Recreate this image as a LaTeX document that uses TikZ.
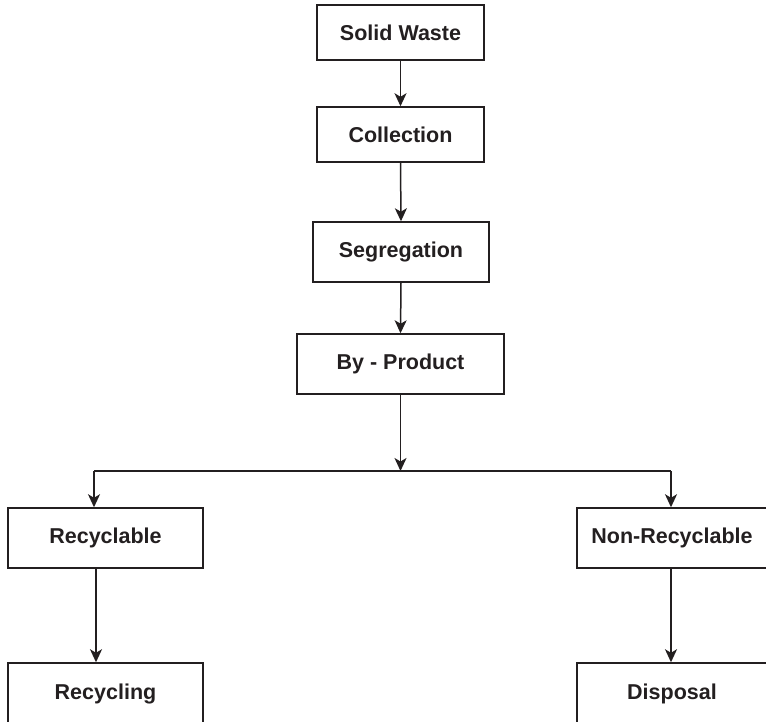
\documentclass[tikz,border=0pt]{standalone}
\usepackage{fontspec}
\setmainfont{Liberation Sans}
\usetikzlibrary{arrows.meta}
\definecolor{ink}{HTML}{231F20}
\tikzset{
  box/.style={draw=ink, line width=1.5pt, rectangle, inner sep=0pt, align=center,
    font=\fontsize{21.5}{24}\selectfont\bfseries, text=ink},
  arr/.style={draw=ink, line width=1.5pt, -{Stealth[length=13pt,width=12pt,inset=3.5pt]}},
  ln/.style={draw=ink, line width=1.5pt}
}
\begin{document}
\begin{tikzpicture}[x=1pt,y=-1pt]
\useasboundingbox (0,0) rectangle (766,722);
\node[box, minimum width=167pt, minimum height=55pt] (sw) at (400.5,32.5) {Solid Waste};
\node[box, minimum width=167pt, minimum height=55pt] (col) at (400.5,134.5) {Collection};
\node[box, minimum width=176pt, minimum height=60pt] (seg) at (401,252) {Segregation};
\node[box, minimum width=207pt, minimum height=60pt] (bp) at (400.5,364) {By - Product};
\node[box, minimum width=195pt, minimum height=60pt] (rec) at (105.5,538) {Recyclable};
\node[box, minimum width=190pt, minimum height=60pt] (nrec) at (672,538) {Non-Recyclable};
\node[box, minimum width=195pt, minimum height=61pt] (rcy) at (105.5,693.5) {Recycling};
\node[box, minimum width=190pt, minimum height=61pt] (dis) at (672,693.5) {Disposal};
\coordinate (jl) at (94,471);
\coordinate (jr) at (671,471);
\coordinate (j) at (400.5,471);
\draw[arr] (sw.south) -- (col.north);
\draw[arr] (col.south) -- (seg.north);
\draw[arr] (seg.south) -- (bp.north);
\draw[arr] (bp.south) -- (j);
\draw[ln] (jl) -- (jr);
\draw[arr] (jl) -- (rec.north -| jl);
\draw[arr] (jr) -- (nrec.north -| jr);
\draw[arr] ([xshift=-9.5pt]rec.south) -- ([xshift=-9.5pt]rcy.north);
\draw[arr] ([xshift=-1pt]nrec.south) -- ([xshift=-1pt]dis.north);
\end{tikzpicture}
\end{document}
